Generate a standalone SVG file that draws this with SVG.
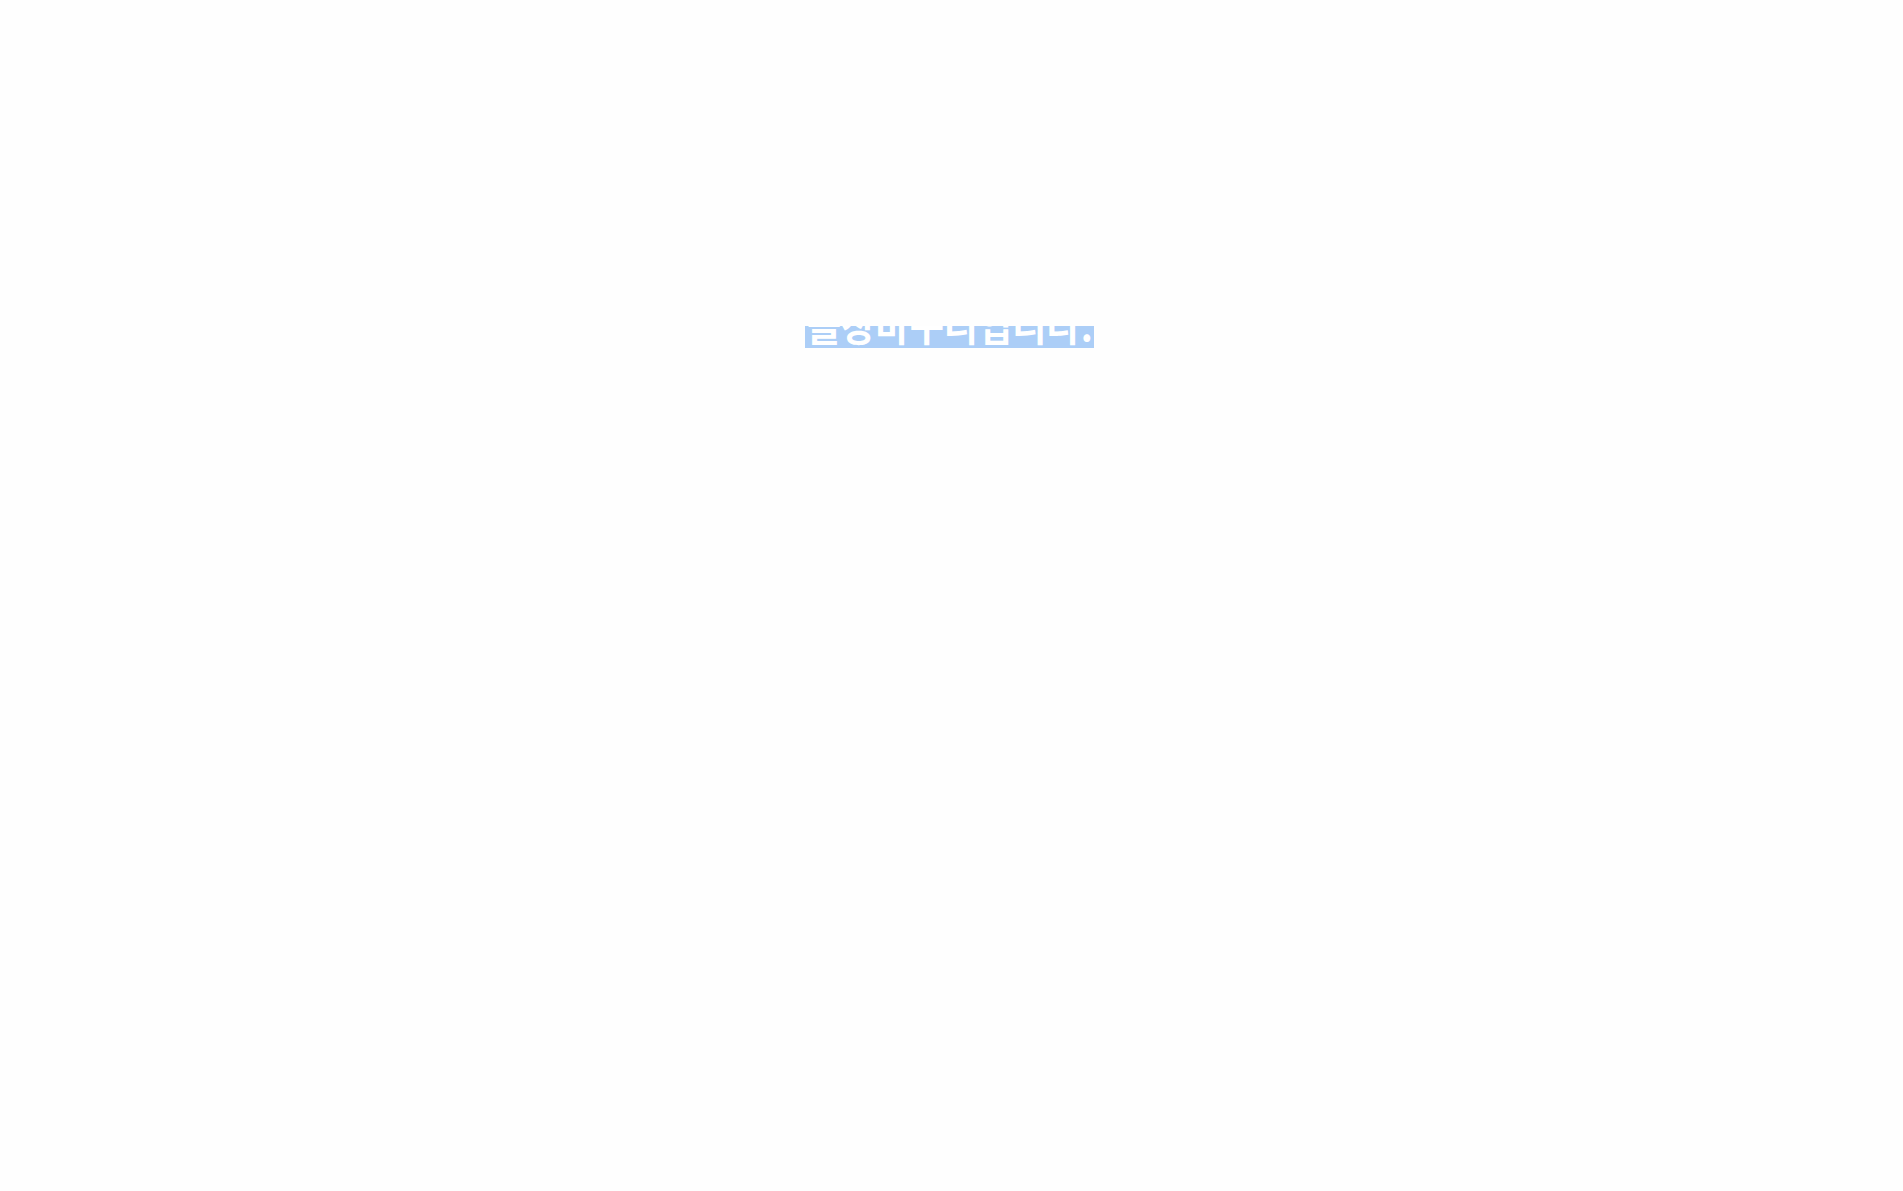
<svg xmlns="http://www.w3.org/2000/svg" width="1903" height="1191" viewBox="0 0 1903 1191">
<style>
.hl{fill:#ACCEF7}
.t{fill:#FFFFFF;font-family:"Noto Sans CJK KR","Noto Sans",sans-serif;font-weight:700;font-size:40px}
</style>
<defs>
<clipPath id="c"><rect x="805" y="326" width="289" height="22"/></clipPath>
</defs>
<rect x="0" y="0" width="1903" height="1191" fill="#FEFEFE"/>
<g id="highlight">
<rect class="hl" x="805" y="326" width="289" height="22"/>
<g clip-path="url(#c)">
<text class="t" transform="translate(807,340.5) scale(0.93,1)" x="0" y="0">을장바구니입니다.</text>
</g>
</g>
</svg>
